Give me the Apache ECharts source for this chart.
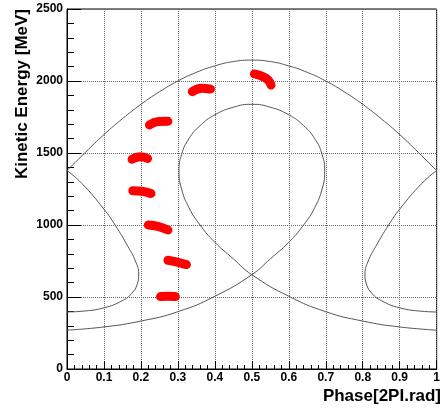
<!DOCTYPE html>
<html>
<head>
<meta charset="utf-8">
<style>
  html, body { margin: 0; padding: 0; background: #fff; }
  #main { width: 443px; height: 410px; }
</style>
<script src="https://cdn.jsdelivr.net/npm/echarts@6.0.0/dist/echarts.min.js"></script>
</head>
<body>
<div id="main"></div>
<script>
// 坐标轴刻度
var xTicks = [0, 0.1, 0.2, 0.3, 0.4, 0.5, 0.6, 0.7, 0.8, 0.9, 1];
var yTicks = [0, 500, 1000, 1500, 2000, 2500];

// 外层分界线 (上半部分), [相位, 能量]
var outerTop = [[0, 1378], [0.05, 1505], [0.1, 1628], [0.15, 1738], [0.2, 1838], [0.25, 1925],
    [0.3, 2000], [0.35, 2060], [0.4, 2105], [0.45, 2135], [0.5, 2145], [0.55, 2135], [0.6, 2105],
    [0.65, 2060], [0.7, 2000], [0.75, 1925], [0.8, 1838], [0.85, 1738], [0.9, 1628], [0.95, 1505], [1, 1378]];
// 外层分界线 左下
var outerLeft = [[0, 1378], [0.04, 1289], [0.1, 1110], [0.13, 1000], [0.165, 850], [0.185, 750],
    [0.194, 660], [0.19, 590], [0.175, 525], [0.15, 475], [0.1, 425], [0.04, 401], [0, 396]];
// 外层分界线 右下
var outerRight = [[1, 1378], [0.96, 1289], [0.9, 1110], [0.87, 1000], [0.835, 850], [0.815, 750],
    [0.806, 660], [0.81, 590], [0.825, 525], [0.85, 475], [0.9, 425], [0.96, 401], [1, 396]];
// 内层分界线 (鱼形)
var inner = [[0, 270], [0.1, 292], [0.2, 333], [0.3, 398], [0.4, 505], [0.5, 655],
    [0.55, 765], [0.6, 880], [0.64, 1000], [0.67, 1120], [0.69, 1250], [0.697, 1370], [0.69, 1490],
    [0.67, 1600], [0.64, 1690], [0.6, 1765], [0.55, 1818], [0.5, 1838], [0.45, 1818], [0.4, 1765],
    [0.36, 1690], [0.33, 1600], [0.31, 1490], [0.303, 1370], [0.31, 1250], [0.33, 1120], [0.36, 1000],
    [0.4, 880], [0.45, 765], [0.5, 655], [0.6, 505], [0.7, 398], [0.8, 333], [0.9, 292], [1, 270]];

// 粒子束团 (红色)
var bunch1 = [[0.253, 503], [0.273, 505], [0.293, 503]];
var bunch2 = [[0.273, 755], [0.298, 742], [0.323, 725]];
var bunch3 = [[0.22, 1000], [0.246, 990], [0.273, 965]];
var bunch4 = [[0.178, 1238], [0.202, 1235], [0.227, 1219]];
var bunch5 = [[0.176, 1456], [0.198, 1474], [0.218, 1462]];
var bunch6 = [[0.223, 1695], [0.248, 1718], [0.273, 1720]];
var bunch7 = [[0.339, 1926], [0.365, 1950], [0.388, 1944]];
var bunch8 = [[0.507, 2049], [0.53, 2030], [0.545, 2005], [0.552, 1972]];

var curves = [outerTop, outerLeft, outerRight, inner];
var bunches = [bunch1, bunch2, bunch3, bunch4, bunch5, bunch6, bunch7, bunch8];

var font = "'Liberation Sans', Arial, Helvetica, sans-serif";

var myChart = echarts.init(document.getElementById('main'));

var series = [];
curves.forEach(function (c) {
    series.push({
        type: 'line',
        data: c,
        smooth: true,
        showSymbol: false,
        lineStyle: { color: '#555', width: 1 }
    });
});
bunches.forEach(function (b) {
    series.push({
        type: 'line',
        data: b,
        smooth: true,
        showSymbol: false,
        lineStyle: { color: '#ff0000', width: 9, cap: 'round', join: 'round' }
    });
});

var option = {
    backgroundColor: '#fff',
    animation: false,
    grid: {
        left: 67, right: 2, top: 9, bottom: 41,
        show: true, borderColor: '#000', borderWidth: 1
    },
    xAxis: {
        type: 'value',
        min: xTicks[0],
        max: xTicks[xTicks.length - 1],
        interval: 0.1,
        axisLine: { lineStyle: { color: '#000', width: 1 } },
        axisTick: { inside: true, length: 8, lineStyle: { color: '#000' } },
        minorTick: { show: true, splitNumber: 5, length: 4, lineStyle: { color: '#000' } },
        splitLine: { show: true, lineStyle: { color: '#666', type: 'dotted', width: 1 } },
        axisLabel: {
            color: '#000', fontWeight: 'bold', fontSize: 12, fontFamily: font, margin: 3,
            formatter: function (v) { return String(Math.round(v * 10) / 10); }
        }
    },
    yAxis: {
        type: 'value',
        min: yTicks[0],
        max: yTicks[yTicks.length - 1],
        interval: 500,
        axisLine: { show: true, lineStyle: { color: '#000', width: 1 } },
        axisTick: { show: true, inside: true, length: 14, lineStyle: { color: '#000' } },
        minorTick: { show: true, splitNumber: 5, length: 7, lineStyle: { color: '#000' } },
        splitLine: { show: true, lineStyle: { color: '#666', type: 'dotted', width: 1 } },
        axisLabel: {
            color: '#000', fontWeight: 'bold', fontSize: 12, fontFamily: font, margin: 4,
            formatter: function (v) { return String(v); }
        }
    },
    // 坐标轴标题
    graphic: [
        {
            type: 'text', x: 441, y: 388,
            style: {
                text: 'Phase[2PI.rad]', fill: '#000',
                font: 'bold 17px ' + font,
                align: 'right', verticalAlign: 'top', textAlign: 'right', textVerticalAlign: 'top'
            }
        },
        {
            type: 'text', x: 14, y: 9, rotation: Math.PI / 2,
            style: {
                text: 'Kinetic Energy [MeV]', fill: '#000',
                font: 'bold 17px ' + font,
                align: 'right', verticalAlign: 'top', textAlign: 'right', textVerticalAlign: 'top'
            }
        }
    ],
    series: series
};

myChart.setOption(option);
</script>
</body>
</html>
